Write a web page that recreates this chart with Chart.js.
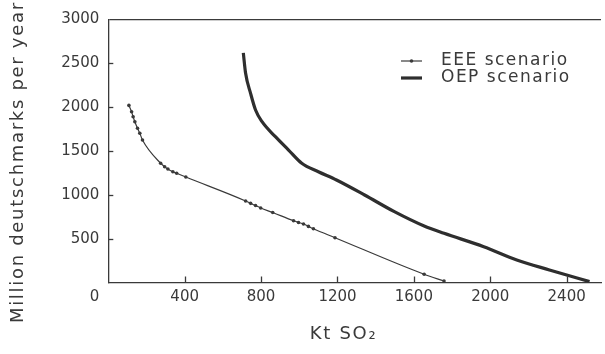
<!DOCTYPE html>
<html><head><meta charset="utf-8">
<script src="https://cdn.jsdelivr.net/npm/chart.js@4"></script>
<style>html,body{margin:0;padding:0;background:#fff}#wrap{width:605px;height:354px;position:relative}</style>
</head><body><div id="wrap"><canvas id="c"></canvas></div>
<script>
// ---- data ----
const xTickValues = [0, 400, 800, 1200, 1600, 2000, 2400];
const yTickValues = [0, 500, 1000, 1500, 2000, 2500, 3000];
const seriesNames = ['EEE scenario', 'OEP scenario'];
const eeeSO2  = [108, 122, 130, 139, 153, 165, 179, 274, 295, 312, 338, 358, 406, 719, 745, 771, 798, 861, 970, 996, 1022, 1048, 1074, 1187, 1654, 1758];
const eeeCost = [2020, 1948, 1891, 1834, 1759, 1702, 1625, 1360, 1321, 1295, 1264, 1246, 1203, 930, 903, 878, 850, 798, 704, 685, 667, 640, 613, 511, 94, 17];
const oepSO2  = [707, 719, 745, 771, 805, 875, 944, 1013, 1100, 1195, 1342, 1498, 1654, 1758, 1966, 2139, 2310, 2520];
const oepCost = [2620, 2386, 2158, 1968, 1834, 1663, 1511, 1360, 1264, 1169, 998, 808, 644, 561, 408, 257, 143, 10];
const xTitle = 'Kt SO\u2082';
const yTitle = 'Million deutschmarks per year';

const INK = '#3a3a3a';
const FAMILY = '"DejaVu Sans", sans-serif';
Chart.defaults.font.family = FAMILY;
Chart.defaults.color = INK;

const pts = (xs, ys) => xs.map((x, i) => ({x: x, y: ys[i]}));

const decorPlugin = {
  id: 'decor',
  beforeDraw(chart) { chart.ctx.letterSpacing = '1.7px'; },
  beforeDatasetsDraw(chart) { chart.ctx.letterSpacing = '0px'; },
  afterDraw(chart) {
    const ctx = chart.ctx, xs = chart.scales.x, ys = chart.scales.y;
    const area = chart.chartArea;
    ctx.save();
    ctx.letterSpacing = '0px';
    ctx.strokeStyle = INK; ctx.lineWidth = 1.3;
    // inward tick marks
    xTickValues.forEach(v => {
      if (v === xTickValues[0]) return;
      const p = Math.round(xs.getPixelForValue(v)) + 0.5;
      ctx.beginPath(); ctx.moveTo(p, area.bottom); ctx.lineTo(p, area.bottom - 6); ctx.stroke();
    });
    yTickValues.forEach((v, i) => {
      if (i === 0 || i === yTickValues.length - 1) return;
      const p = Math.round(ys.getPixelForValue(v)) + 0.5;
      ctx.beginPath(); ctx.moveTo(area.left, p); ctx.lineTo(area.left + 5, p); ctx.stroke();
    });
    // shared corner zero label
    ctx.font = '15px ' + FAMILY; ctx.fillStyle = INK;
    ctx.textAlign = 'right'; ctx.textBaseline = 'middle';
    ctx.fillText(String(yTickValues[0]), ys.right - 9, xs.top + 6 + 9);
    // legend
    ctx.letterSpacing = '1.5px';
    ctx.font = '17px ' + FAMILY; ctx.textAlign = 'left';
    const rows = [61, 78];
    chart.data.datasets.forEach((ds, i) => {
      const yy = rows[i];
      ctx.strokeStyle = ds.borderColor; ctx.lineWidth = ds.borderWidth;
      ctx.beginPath(); ctx.moveTo(401, yy); ctx.lineTo(422, yy); ctx.stroke();
      if (ds.pointRadius > 0) {
        ctx.fillStyle = ds.pointBackgroundColor;
        ctx.beginPath(); ctx.arc(411.5, yy, ds.pointRadius, 0, Math.PI * 2); ctx.fill();
      }
      ctx.fillStyle = INK;
      ctx.fillText(ds.label, 441, yy);
    });
    ctx.restore();
  }
};

new Chart(document.getElementById('c'), {
  type: 'line',
  data: {
    datasets: [
      { label: seriesNames[0], data: pts(eeeSO2, eeeCost), borderColor: INK, borderWidth: 1.2,
        pointRadius: 1.8, pointBackgroundColor: INK, pointBorderWidth: 0, cubicInterpolationMode: 'monotone' },
      { label: seriesNames[1], data: pts(oepSO2, oepCost), borderColor: '#2e2e2e', borderWidth: 3.2,
        pointRadius: 0, cubicInterpolationMode: 'monotone' }
    ]
  },
  options: {
    responsive: true, maintainAspectRatio: false, animation: false, devicePixelRatio: 1,
    layout: { padding: { top: 19.5, left: 0, right: 0, bottom: 0 } },
    plugins: { legend: { display: false }, tooltip: { enabled: false } },
    scales: {
      x: {
        type: 'linear', min: 0, max: 2580,
        afterBuildTicks: s => { s.ticks = xTickValues.map(v => ({value: v})); },
        afterFit: s => { s.height = 71.5; },
        ticks: { z: 1, padding: 6, maxRotation: 0, autoSkip: false, includeBounds: false,
                 font: { size: 15 }, color: INK, callback: v => v === 0 ? '' : String(v) },
        grid: { display: true, drawTicks: false, drawOnChartArea: false },
        border: { display: true, color: INK, width: 1.3 },
        title: { display: true, text: xTitle + '   ', font: { size: 18 }, color: INK, padding: { top: 0, bottom: 9 } }
      },
      y: {
        type: 'linear', min: 0, max: 3000,
        afterBuildTicks: s => { s.ticks = yTickValues.map(v => ({value: v})); },
        afterFit: s => { s.width = 108.3; },
        ticks: { z: 1, padding: 9, includeBounds: false, font: { size: 15 }, color: INK,
                 callback: v => v === 0 ? '' : String(v) },
        grid: { drawTicks: false, drawOnChartArea: true, lineWidth: 1.3,
                color: c => (c.tick && c.tick.value === yTickValues[yTickValues.length - 1]) ? INK : 'rgba(0,0,0,0)' },
        border: { display: true, color: INK, width: 1.3 },
        title: { display: true, text: yTitle + '   ', font: { size: 18 }, color: INK, padding: { top: 8, bottom: 0 } }
      }
    }
  },
  plugins: [decorPlugin]
});
</script>
</body></html>
